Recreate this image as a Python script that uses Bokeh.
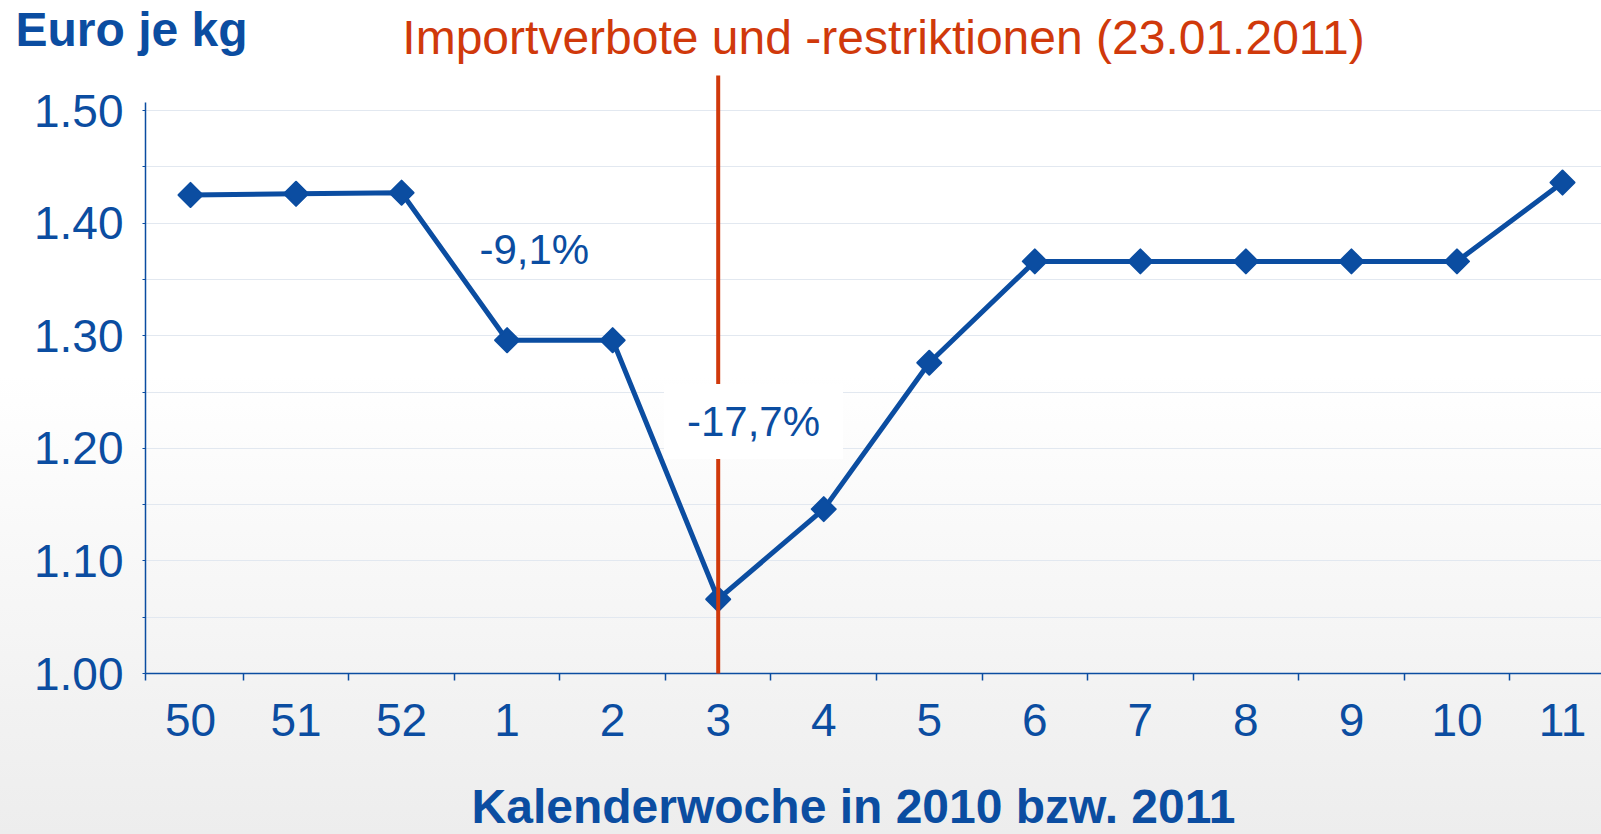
import numpy as np
from bokeh.plotting import figure
from bokeh.models import FixedTicker, Label, Arrow, Range1d
from bokeh.embed import file_html
from bokeh.resources import INLINE

# ---- data ----
weeks = ["50", "51", "52", "1", "2", "3", "4", "5", "6", "7", "8", "9", "10", "11"]
prices = [1.425, 1.426, 1.427, 1.296, 1.296, 1.066, 1.146, 1.276, 1.366, 1.366, 1.366, 1.366, 1.366, 1.436]
y_ticks = [1.00, 1.10, 1.20, 1.30, 1.40, 1.50]
y_minor = [1.05, 1.15, 1.25, 1.35, 1.45]
event_week = "3"
drop_labels = ["-9,1%", "-17,7%"]
title_text = "Importverbote und -restriktionen (23.01.2011)"
y_title = "Euro je kg"
x_title = "Kalenderwoche in 2010 bzw. 2011"

BLUE = "#0B4DA1"
RED = "#D0390B"
FONT = "Liberation Sans"

xs = list(range(len(weeks)))

# ---- page geometry (page pixels) ----
W, H = 1601, 834
AXIS_L, AXIS_B, AXIS_TOP = 145, 673, 102
X0_PX, DX_PX = 190, 105.54      # first category centre, spacing
DY_PX = 1126.0                  # px per 1.0 euro

def px2x(px):
    return (px - X0_PX) / DX_PX

def px2y(py):
    return 1.0 + (AXIS_B - py) / DY_PX

p = figure(width=W, height=H, output_backend="svg", toolbar_location=None,
           x_range=Range1d(px2x(0), px2x(W)), y_range=Range1d(px2y(H), px2y(0)))
p.min_border = 0
p.min_border_left = p.min_border_right = p.min_border_top = p.min_border_bottom = 0
p.outline_line_color = None
p.border_fill_alpha = 0
p.background_fill_alpha = 0
p.styles = {"background": "linear-gradient(to bottom, #ffffff 0%, #ffffff 45%, #ededed 100%)"}

# x axis (drawn inside the canvas at y = 1.00)
xa = p.xaxis[0]
xa.fixed_location = 1.0
xa.bounds = (px2x(AXIS_L), px2x(W))
xa.ticker = FixedTicker(ticks=xs, minor_ticks=[px2x(AXIS_L)] + [i + 0.5 for i in xs])
xa.major_label_overrides = {i: w for i, w in zip(xs, weeks)}
xa.major_tick_line_color = None
xa.major_tick_out = 0
xa.major_tick_in = 0
xa.minor_tick_line_color = BLUE
xa.minor_tick_out = 7
xa.minor_tick_in = 0
xa.minor_tick_line_width = 1.5
xa.axis_line_color = BLUE
xa.axis_line_width = 1.5
xa.major_label_text_font = FONT
xa.major_label_text_font_size = "46px"
xa.major_label_text_color = BLUE
xa.major_label_standoff = 23

# y axis
ya = p.yaxis[0]
ya.fixed_location = px2x(AXIS_L)
ya.bounds = (1.0, px2y(AXIS_TOP))
ya.ticker = FixedTicker(ticks=y_ticks, minor_ticks=y_minor)
ya.major_label_overrides = {t: f"{t:.2f}" for t in y_ticks}
ya.major_tick_line_color = BLUE
ya.minor_tick_line_color = BLUE
ya.major_tick_out = 3
ya.major_tick_in = 0
ya.minor_tick_out = 3
ya.minor_tick_in = 0
ya.axis_line_color = BLUE
ya.axis_line_width = 1.5
ya.major_label_text_font = FONT
ya.major_label_text_font_size = "46px"
ya.major_label_text_color = BLUE
ya.major_label_standoff = 19

p.xgrid.grid_line_color = None
p.ygrid.grid_line_color = "#E2E8F0"
p.ygrid.minor_grid_line_color = "#E2E8F0"
p.ygrid.grid_line_width = 1.2
p.ygrid.minor_grid_line_width = 1.2
p.ygrid.cross_bounds = (px2x(AXIS_L), px2x(W))

# data
p.line(xs, prices, line_color=BLUE, line_width=5)
p.scatter(xs, prices, marker="square", angle=np.pi / 4, size=17,
          fill_color=BLUE, line_color=BLUE, line_join="round", line_width=2)

ex = weeks.index(event_week)
p.add_layout(Arrow(end=None, x_start=ex, y_start=1.0, x_end=ex, y_end=px2y(75),
                   line_color=RED, line_width=4))

# texts
p.add_layout(Label(x=px2x(479), y=px2y(249), text=drop_labels[0],
                   text_font=FONT, text_font_size="42px", text_color=BLUE,
                   text_align="left", text_baseline="middle"))
p.add_layout(Label(x=px2x(753), y=px2y(421), text=drop_labels[1],
                   text_font=FONT, text_font_size="42px", text_color=BLUE,
                   text_align="center", text_baseline="middle",
                   background_fill_color="white", padding=(23, 14)))
p.add_layout(Label(x=px2x(15), y=px2y(29), text=y_title, text_font=FONT,
                   text_font_size="48px", text_font_style="bold", text_color=BLUE,
                   text_align="left", text_baseline="middle"))
p.add_layout(Label(x=px2x(883), y=px2y(37), text=title_text, text_font=FONT,
                   text_font_size="48px", text_color=RED,
                   text_align="center", text_baseline="middle"))
p.add_layout(Label(x=px2x(853), y=px2y(806), text=x_title, text_font=FONT,
                   text_font_size="48px", text_font_style="bold", text_color=BLUE,
                   text_align="center", text_baseline="middle"))

open("out.html", "w").write(file_html(p, INLINE))
